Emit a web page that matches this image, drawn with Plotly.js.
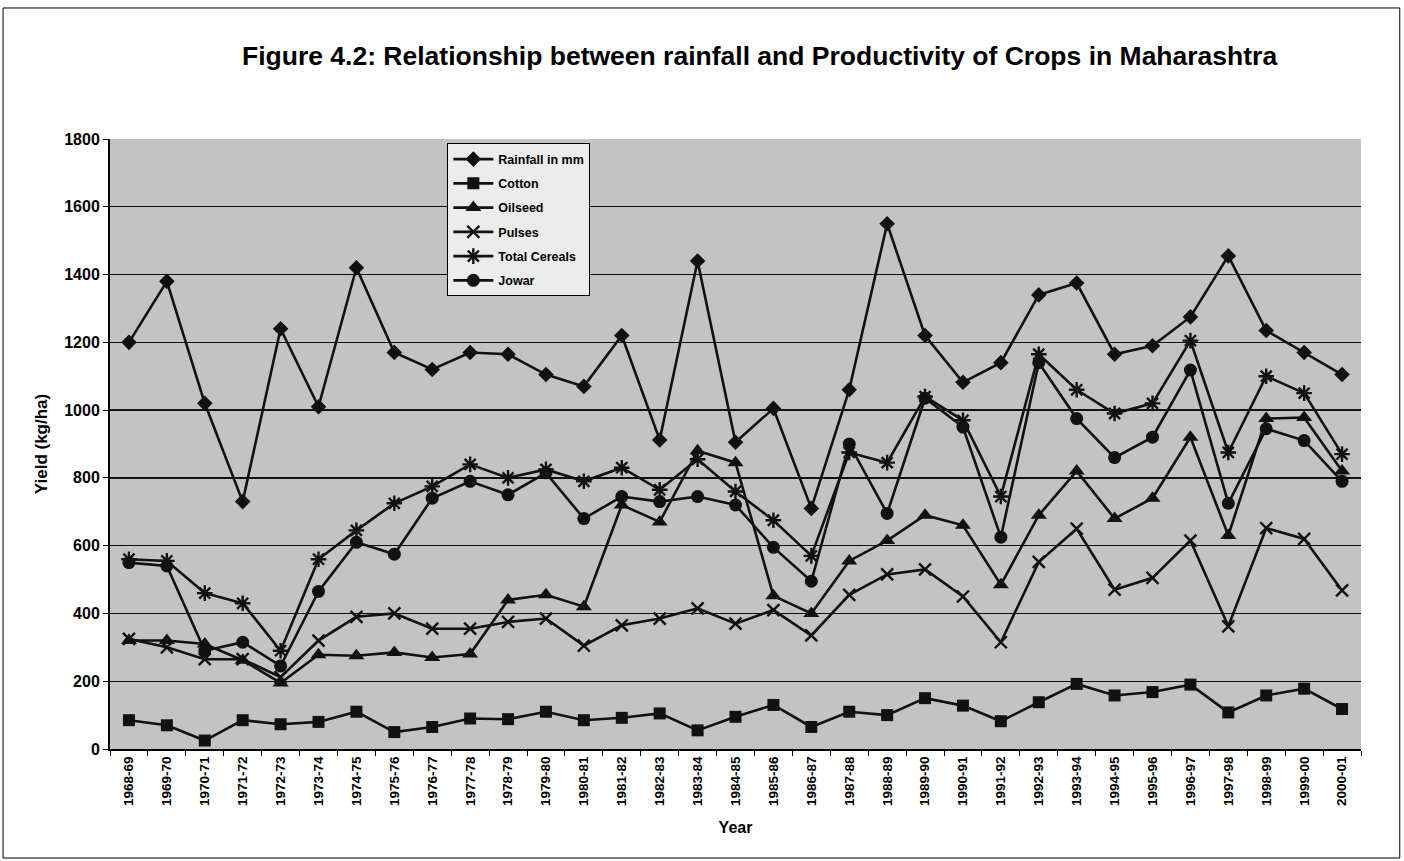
<!DOCTYPE html>
<html>
<head>
<meta charset="utf-8">
<script src="https://cdn.plot.ly/plotly-3.0.1.min.js"></script>
<style>html,body{margin:0;padding:0;background:#fff;}#chart{width:1404px;height:861px;}</style>
</head>
<body>
<div id="chart"></div>
<script>
const years = ["1968-69","1969-70","1970-71","1971-72","1972-73","1973-74","1974-75","1975-76","1976-77","1977-78","1978-79","1979-80","1980-81","1981-82","1982-83","1983-84","1984-85","1985-86","1986-87","1987-88","1988-89","1989-90","1990-91","1991-92","1992-93","1993-94","1994-95","1995-96","1996-97","1997-98","1998-99","1999-00","2000-01"];
const rainfall = [1200,1380,1020,730,1240,1010,1420,1170,1120,1170,1165,1105,1070,1220,912,1440,905,1005,710,1060,1550,1220,1082,1140,1340,1375,1165,1190,1275,1455,1235,1170,1105];
const cotton = [85,70,25,85,73,80,110,50,65,90,88,110,85,92,105,55,95,130,65,110,100,150,128,82,138,192,158,168,190,108,158,178,118];
const oilseed = [320,320,310,262,195,278,275,285,270,280,440,455,420,720,670,880,845,452,400,555,615,690,660,485,690,820,680,740,920,630,975,978,820];
const pulses = [325,300,265,265,212,320,390,400,355,355,375,385,305,365,385,415,370,410,335,455,515,530,450,315,552,650,470,505,615,362,652,620,468];
const cereals = [560,555,460,430,290,560,645,725,775,840,800,825,790,830,765,855,760,675,570,875,845,1040,970,745,1165,1060,990,1020,1205,875,1100,1050,870];
const jowar = [550,540,290,315,245,465,610,575,740,790,750,815,680,745,730,745,720,595,495,900,695,1035,950,625,1140,975,860,920,1118,725,945,910,790];
const yTicks = [0,200,400,600,800,1000,1200,1400,1600,1800];

const names = ["Rainfall in mm","Cotton","Oilseed","Pulses","Total Cereals","Jowar"];
const series = [rainfall,cotton,oilseed,pulses,cereals,jowar];
const symbols = ["diamond","square","triangle-up","x-thin-open","asterisk-open","circle"];
const sizes = [12,12,14,12,13,13];

const traces = series.map((s,i)=>({
  type:'scatter', mode:'lines+markers', name:names[i], x:years, y:s,
  legendgroup:'g'+i,
  line:{color:'#111', width:2.6},
  marker:{symbol:symbols[i], size:sizes[i], color:'#111',
    line:{color:'#111', width:(symbols[i].indexOf('open')>=0?2.4:0)}}
}));

const fontFam = '"Liberation Sans", Arial, sans-serif';
const layout = {
  width:1404, height:861,
  margin:{l:110, r:43, t:139, b:112},
  paper_bgcolor:'#ffffff', plot_bgcolor:'#c3c3c3',
  font:{family:fontFam, color:'#000', weight:'bold'},
  title:{text:'Figure 4.2: Relationship between rainfall and Productivity of Crops in Maharashtra',
    font:{family:fontFam, size:26.5, weight:'bold', color:'#000'}, x:0.541, xanchor:'center', y:0.935, yanchor:'middle'},
  xaxis:{type:'category', range:[-0.5,32.5], showgrid:false, zeroline:false,
    showline:true, linecolor:'#000', linewidth:2,
    ticks:'outside', tickson:'boundaries', ticklen:5, tickcolor:'#000',
    tickangle:-90, tickfont:{family:fontFam, size:13.5, weight:'bold'},
    title:{text:'Year', font:{family:fontFam, size:16, weight:'bold'}, standoff:17}},
  yaxis:{range:[0,1800], tickvals:yTicks, ticktext:yTicks.map(String),
    showgrid:true, gridcolor:'#111', gridwidth:1.4, zeroline:false,
    showline:true, linecolor:'#000', linewidth:2,
    ticks:'outside', ticklen:5, tickcolor:'#000',
    tickfont:{family:fontFam, size:16, weight:'bold'},
    title:{text:'Yield (kg/ha)', font:{family:fontFam, size:17, weight:'bold'}, standoff:12}},
  legend:{x:0.2695, y:0.993, xanchor:'left', yanchor:'top',
    bgcolor:'#ececec', bordercolor:'#000', borderwidth:1.2, traceorder:'grouped',
    font:{family:fontFam, size:12.5, weight:'bold'}, itemwidth:40, tracegroupgap:5},
  showlegend:true,
  shapes:[{type:'rect', xref:'paper', yref:'paper', x0:-0.0855, x1:1.031, y0:-0.1787, y1:1.2148,
    line:{color:'#000', width:1}}]
};
Plotly.newPlot('chart', traces, layout, {displayModeBar:false, staticPlot:true});
</script>
</body>
</html>
